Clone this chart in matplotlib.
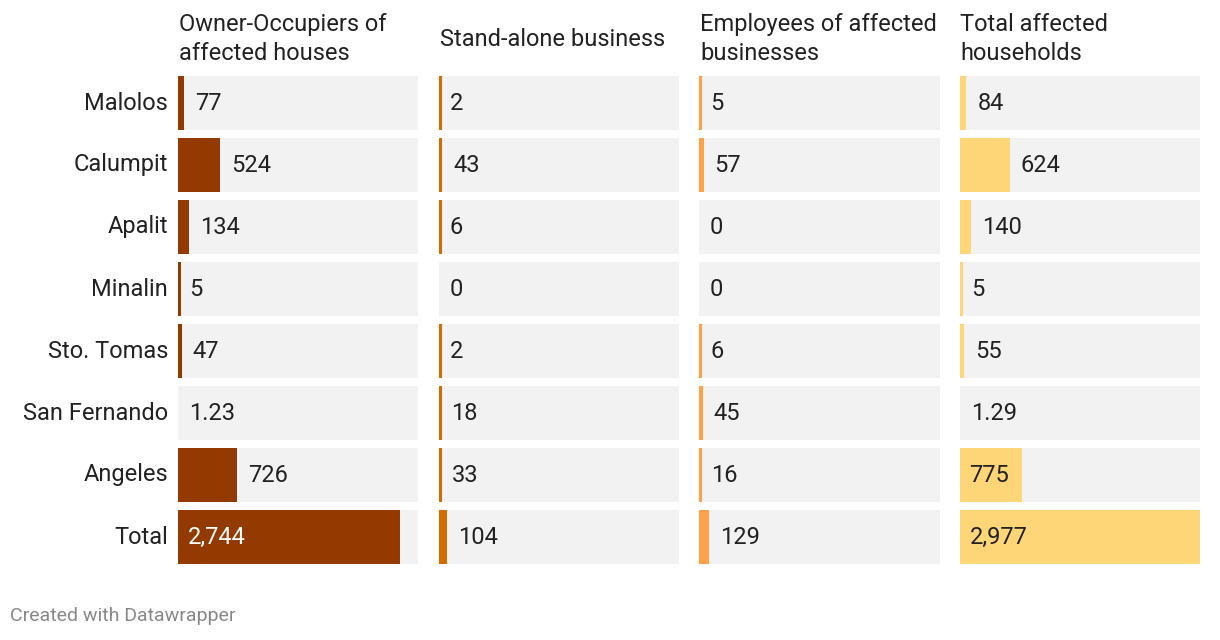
import matplotlib
matplotlib.use("Agg")
import matplotlib.pyplot as plt

towns = ["Malolos", "Calumpit", "Apalit", "Minalin", "Sto. Tomas",
         "San Fernando", "Angeles", "Total"]
titles = ["Owner-Occupiers of\naffected houses", "Stand-alone business",
          "Employees of affected\nbusinesses", "Total affected\nhouseholds"]
owners = [77, 524, 134, 5, 47, 1.23, 726, 2744]
standalone = [2, 43, 6, 0, 2, 18, 33, 104]
employees = [5, 57, 0, 0, 6, 45, 16, 129]
households = [84, 624, 140, 5, 55, 1.29, 775, 2977]
labels = [
    ["77", "524", "134", "5", "47", "1.23", "726", "2,744"],
    ["2", "43", "6", "0", "2", "18", "33", "104"],
    ["5", "57", "0", "0", "6", "45", "16", "129"],
    ["84", "624", "140", "5", "55", "1.29", "775", "2,977"],
]
colors = ["#933a00", "#d46c00", "#ffa245", "#ffd677"]
series = [owners, standalone, employees, households]

plt.rcParams["font.family"] = ["Roboto", "DejaVu Sans"]
W, H = 1220, 640
fig = plt.figure(figsize=(W / 100, H / 100), dpi=100)

vmax = max(max(s) for s in series)
x0, pw, gap = 178, 240.5, 20
top, step = 72, 62
n = len(towns)
txt = "#222222"

for c, vals in enumerate(series):
    left = x0 + c * (pw + gap)
    ax = fig.add_axes([left / W, 1 - (top + n * step) / H, pw / W, n * step / H])
    ax.set_xlim(0, vmax)
    ax.set_ylim(n - 0.5, -0.5)
    ax.axis("off")
    ys = range(n)
    px = pw / vmax
    ax.barh(ys, [vmax] * n, height=54 / 62, color="#f2f2f2", left=0)
    # tiny bars still show as a thin sliver, as in the original
    shown = [max(v, 3 / px) if v >= 2 else v for v in vals]
    ax.barh(ys, shown, height=54 / 62, color=colors[c])
    for i, v in enumerate(vals):
        if v * px > 60:
            tc = "white" if c == 0 else txt
            ax.text(10 / px, i, labels[c][i], va="center", ha="left",
                    fontsize=17, color=tc)
        else:
            ax.text(v + 11 / px, i, labels[c][i], va="center", ha="left",
                    fontsize=17, color=txt)
    fig.text((left + 1) / W, 1 - 39 / H, titles[c], ha="left", va="center",
             fontsize=17, color=txt, linespacing=1.3)

for i, t in enumerate(towns):
    fig.text(168 / W, 1 - (top + 4 + 27 + i * step) / H, t, ha="right",
             va="center", fontsize=17, color=txt)

fig.text(10 / W, 1 - 616 / H, "Created with Datawrapper", ha="left",
         va="center", fontsize=14, color="#888888")

fig.savefig("out.png", dpi=100)
